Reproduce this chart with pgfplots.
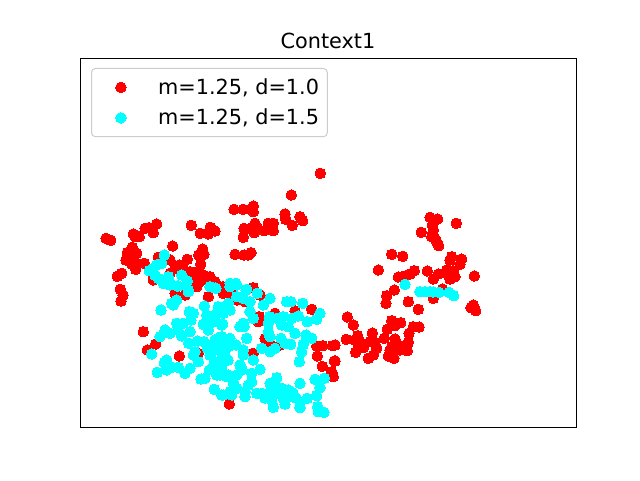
\documentclass[border=0pt]{standalone}
\usepackage{pgfplots}
\pgfplotsset{compat=1.18}
\usepackage{fontspec}
\setmainfont{DejaVu Sans}
\definecolor{mplcyan}{rgb}{0,1,1}
\pgfplotsset{legmark/.style={legend image code/.code={\path (0pt,0pt) (43pt,0pt);\draw[mark repeat=2,mark phase=2,##1] plot coordinates {(0pt,0pt)(17.5pt,0pt)(35pt,0pt)};}}}
\begin{document}
\begin{tikzpicture}
\path[use as bounding box] (-60pt,-39.75pt) rectangle (420pt,320.25pt);
\begin{axis}[
  at={(0pt,0pt)}, anchor=south west,
  scale only axis, width=372pt, height=276.75pt,
  xmin=80, xmax=576, ymin=58, ymax=427, y dir=reverse,
  xtick=\empty, ytick=\empty,
  axis line style={line width=0.65pt},
  title={\fontsize{15.6}{18}\selectfont Context1},
  title style={at={(0.5,1)},anchor=south,yshift=-2.25pt,inner sep=3pt},
  clip=false,
  legend cell align=left,
  legend style={at={(0.0222,0.973)},anchor=north west,draw=black!20,rounded corners=3pt,line width=0.75pt,
    font=\fontsize{15.6}{18}\selectfont,inner xsep=4.2pt,inner ysep=5.5pt,row sep=5.5pt,
    /tikz/every even column/.style={column sep=0pt}},
]
\addplot[only marks,mark=*,mark size=3.95pt,color=red,mark options={line width=0pt},legmark] coordinates {
(106,238.3)(110.7,240.3)(133.3,234)(135,236.7)(139.3,236.7)(145,228.3)(149.3,227.7)(153.3,232.7)(156.7,224)(191.3,225.3)(200.3,233.3)(208.3,234)(210.3,227.3)(215,231)
(132.3,247.3)(127.3,252.7)(136.7,253.3)(126,260)(130,260)(135,261.7)(131.7,264)(135.7,269.3)(144.3,263.3)(121.7,273.3)(117.3,276.3)(120.3,289.3)(123,295)(121,301)(172.7,246)(202.7,249)(198.7,255)(204,254.3)(187.3,259.3)(158.3,257.3)(200.7,264.3)(179.3,265)(175,268.3)(183.3,268.3)(190,271.7)(196.7,271.7)(203.3,275)(210,276.7)(215,281.7)(193.3,278.3)(200,281.7)(170,273.3)(153.3,278.3)(190,283.3)(196.7,286.7)(170,260)
(143.3,331.7)(155.7,344)(147.3,350)(179.3,356)(198.3,353.3)(229.3,404)(196.7,285)(208.3,296.7)(185,295)(175,293.3)(153.3,280)(226.7,291.7)(233,295)(210,281.7)
(320.3,173.3)(291.3,195)(234,209.3)(243.3,209.3)(253.3,206)(253.3,211.7)(285,214)(285.7,219.3)(300,216.7)(302.7,220.7)(292.3,225.3)(244,228.3)(255,223.3)(250,228.3)(257.3,228.3)(254.3,232.7)(243.3,237.3)(264.3,230.7)(268.3,223.3)(273.3,223.3)(273.3,230.7)(235,254.3)(244,255)(248.3,255)(251,252.7)(253.3,287.7)(223.3,286.7)
(311.7,309.3)(295,311)(275,313.3)(259.3,316.7)(258.3,321.7)(265,338.3)(270,343.3)(280,345)(253.3,353.3)(316.7,346)(322.7,345.7)(332.7,345.7)(317.3,356)(334.3,361)(322.3,366.3)(331.7,371.7)(333.3,376.7)(230,286.7)(223.3,293.3)(233,292)(260,295)(245,301.7)(236.7,300)
(430,217.3)(437.7,219)(456.3,223.3)(421.3,232.3)(432.3,225)(433.3,230)(431.7,236.7)(435,238.3)(436.7,241.7)(438.7,245.7)(391.7,254.3)(402.7,256.3)(451.7,256.7)(450,260)(461.7,259)(460,264.3)(378.3,270)(414.3,270.7)(410,274)(405.7,275.7)(398.3,277)(427.3,271)(438.3,274)(433.3,279)(446.7,270)(453.3,270.7)(448.3,275)(455,276.7)(450,279)(474.3,276)(394.3,290)(386.7,295.7)(386,303.3)(408.3,301.7)(418.3,309.3)(433.3,298.3)(442.3,289)(473.3,305)(471,307.7)(475.7,310.7)(347.3,317)(353.3,325)(391.7,320.7)(395,325.7)(400.7,322.7)(387.3,329.3)(413.3,326.7)(419,327)(409,333.3)(372.3,333)(346.3,339.3)(357.7,335.7)(355,340)(360,341.7)(358.3,346.7)(363.3,347.7)(355.7,352.3)(370,341.7)(375,342.3)(384.3,338.3)(376.7,348.3)(373.3,355)(368.3,358.3)(395,339)(408.3,342.3)(398.3,345)(391.7,346.7)(395,348.3)(390,350)(400,350)(407.3,350.7)(388.3,356)(394,358.3)(335,345)(335,361)
};
\addlegendentry{m=1.25, d=1.0}
\addplot[only marks,mark=*,mark size=3.95pt,color=mplcyan,mark options={line width=0pt},legmark] coordinates {
(164.3,255)(161.7,263.3)(156.7,265)(153.3,268.3)(149.3,270.7)(155,275)(158.3,278.3)(168.3,276.7)(163.3,283.3)(170,285)(177.3,286)(181.7,275)(187.3,281)(188.3,290)(210,286.7)(216,288.3)
(161,310)(173.3,305)(176.7,300)(171.7,303.3)(188.3,291.7)(178.3,286)(170,283)(163.3,282.7)(187.3,281)(204.3,306)(189.3,311.7)(193.3,313.3)(191,320)(176.7,323.3)(183.3,323.3)(170,333.3)(165,330)(160,336.7)(181.7,336)(190,331.7)(188.7,343.3)(197.7,341)(206.7,315)(203.3,324.3)(210,323.3)(208.3,330)(215,315)(218.3,306.7)(228.3,303.3)(230,310)(222.7,324)(215,321.7)(218.3,338.3)(215,340)(221.7,336.7)(230,338.3)(204,341.7)(207.3,348.3)(228.3,346.7)(218.3,350)(225,355)(210,355)(215,361.7)(221.7,358.3)(193.3,355)(195,351.7)(198.3,361.7)(190,368.3)(185,373.3)(178.3,367.3)(171.7,367.3)(166.7,360)(164.3,362.7)(166.7,370)(157.3,372.3)(151.7,354)(209.3,370)(221.7,366.7)(216.7,375)(226.7,376.7)(205,378.3)(201,379)(233.3,383.3)(214.3,389.3)(221.7,395)(231.7,395)(236.7,388.3)(240,326.7)(241.7,368.3)(236.7,375)(230,286.7)(215,288)(210,286.7)(236.7,285)
(230,283.3)(235.7,283.3)(246.7,289.3)
(246,290)(257.3,293.3)(236.7,296.7)(243.3,298.3)(250,301.7)(270,298.3)(263.3,305)(286.7,301.7)(291,301.7)(302.7,303.3)(320,313.3)(316.7,319.3)(307.3,321.7)(298.3,316)(291.7,318.3)(283.3,316.7)(276.7,318.3)(269.3,316.7)(268.3,323.3)(253.3,318.3)(250,311.7)(243.3,323.3)(244,326.7)(225,306.7)(223.3,313.3)(221.7,325)(288.3,326.7)(281.7,325)(268.3,331.7)(270,336.7)(295,333.3)(281,338.3)(285,343.3)(290.7,344.3)(306,335)(311.7,338.3)(303.3,344.3)(301.7,351.7)(299.3,361.7)(261.7,348.3)(270,351.7)(275,348.3)(230,338.3)(221.7,336.7)(246.7,338.3)(221.7,343.3)(243.3,350)(243.3,355)(253.3,360)(260,369.3)(240,365)(241.7,370)(251.7,373.3)(251.7,381.7)(248.3,385)(233.3,381.7)(235,388.3)(228.3,375)(221.7,366.7)(220,375)(223.3,395)(230,391.7)(245,391.7)(245,396.7)(256.7,393.3)(261.7,393.3)(270,383.3)(276.7,377.7)(275,385)(270,391.7)(281.7,388.3)(288.3,390)(290,396.7)(283.3,398.3)(271.7,400)(273.3,407.3)(300,383.3)(315,379.3)(324.3,378.3)(320,387.7)(316.7,395.7)(307.3,398.3)(300,401.7)(300,407.7)(317.7,406.7)(324,412.3)(318.3,411.7)
(278,393)(293,393)(265,398)(285,404)(296,398)(228,360)(212,348)(236,345)(212,368)(178,330)
(405,284.3)(420,291.7)(425,291.7)(430,291.7)(439,292.3)(449,292.3)(453.7,295.7)(433,292)
};
\addlegendentry{m=1.25, d=1.5}
\end{axis}
\end{tikzpicture}
\end{document}
